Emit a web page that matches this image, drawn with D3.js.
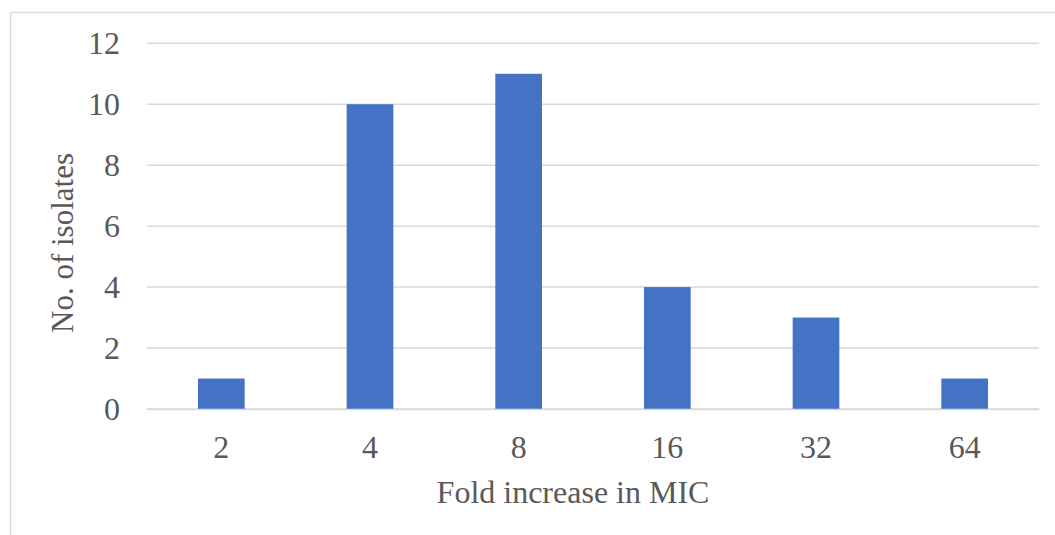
<!DOCTYPE html>
<html><head><meta charset="utf-8">
<script src="https://cdn.jsdelivr.net/npm/d3@7"></script>
<style>html,body{margin:0;padding:0;background:#fff;}svg{display:block;}
svg text{font-family:"Liberation Serif","Times New Roman",Times,serif;}</style>
</head><body>
<svg id="c" width="1055" height="535"></svg>
<script>
const categories = ["2","4","8","16","32","64"];
const values = [1,10,11,4,3,1];
const yTicks = [0,2,4,6,8,10,12];
const xTitle = "Fold increase in MIC";
const yTitle = "No. of isolates";

const svg = d3.select("#c");
const txt = "#595959";

svg.append("rect").attr("x",10.5).attr("y",12.5).attr("width",1100).attr("height",600)
  .attr("fill","none").attr("stroke","#d9d9d9").attr("stroke-width",1.3);

const L=147, R=1039, T=43.3, B=409;
const x = d3.scaleBand().domain(categories).range([L,R]).paddingInner(0.686).paddingOuter(0.343);
const y = d3.scaleLinear().domain([0,12]).range([B,T]);

svg.append("g").selectAll("line").data(yTicks).join("line")
  .attr("x1",L).attr("x2",R).attr("y1",d=>y(d)).attr("y2",d=>y(d))
  .attr("stroke","#d9d9d9").attr("stroke-width",1.5);

svg.append("g").selectAll("rect").data(values).join("rect")
  .attr("x",(d,i)=>x(categories[i])).attr("width",x.bandwidth())
  .attr("y",d=>y(d)).attr("height",d=>y(0)-y(d)).attr("fill","#4472C4");

const ya = svg.append("g").attr("transform",`translate(${L},0)`)
  .call(d3.axisLeft(y).tickValues(yTicks).tickSize(0).tickPadding(27));
ya.attr("font-family",null);
ya.select(".domain").remove();
ya.selectAll("text").attr("font-size",32).attr("fill",txt);

const xa = svg.append("g").attr("transform",`translate(0,${B})`)
  .call(d3.axisBottom(x).tickSize(0).tickPadding(26));
xa.attr("font-family",null);
xa.select(".domain").attr("stroke","#d9d9d9").attr("stroke-width",1.5);
xa.selectAll("text").attr("font-size",32).attr("fill",txt);

svg.append("text").attr("x",(L+R)/2-20).attr("y",503).attr("text-anchor","middle")
  .attr("font-size",32).attr("fill",txt).text(xTitle);
svg.append("text").attr("transform","translate(73,243) rotate(-90)").attr("text-anchor","middle")
  .attr("font-size",31).attr("fill",txt).text(yTitle);
</script>
</body></html>
